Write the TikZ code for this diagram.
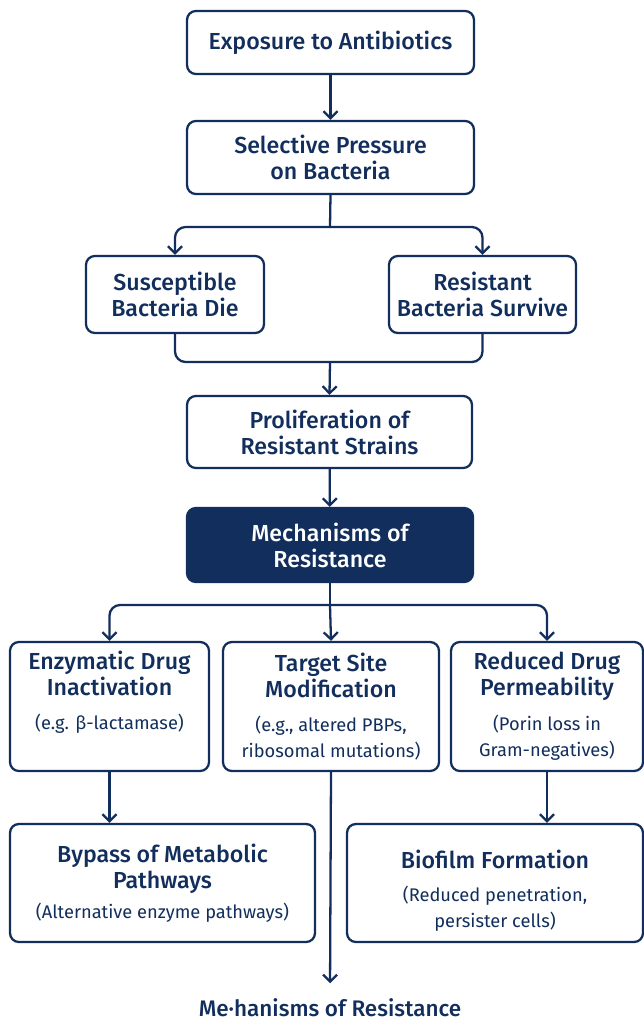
\documentclass[tikz,border=0pt]{standalone}
\usepackage{fontspec}
\setmainfont{Fira Sans}[BoldFont={* Medium}]
\usetikzlibrary{positioning,arrows.meta}
\definecolor{navy}{HTML}{122E5C}
\newcommand{\subt}[1]{{\fontsize{10.4}{12.4}\selectfont\mdseries #1}}

\begin{document}
\begin{tikzpicture}[
    x=0.02cm, y=-0.02cm,
    line join=round,
    line cap=round,
    >={Straight Barb[length=4pt,width=8pt]},
    every node/.style={inner sep=3pt, text=navy},
    stepbox/.style={draw=navy, rounded corners=5pt, fill=white, line width=1.3pt,
        align=center, font=\fontsize{13.2}{14.8}\selectfont\bfseries},
    keybox/.style={stepbox, fill=navy, text=white},
    flow/.style={->, draw=navy, line width=1.3pt},
    link/.style={draw=navy, line width=1.3pt, rounded corners=6pt}
]
\useasboundingbox (0,0) rectangle (644,1025);

% Selection chain
\node[stepbox, minimum width=5.74cm, minimum height=1.26cm] (expo) at (330.5,42.5) {Exposure to Antibiotics};
\node[stepbox, minimum width=5.74cm, minimum height=1.46cm] (press) at (330.5,157.5) {Selective Pressure\\on Bacteria};
\node[stepbox, minimum width=3.56cm, minimum height=1.54cm] (susc) at (175,294.5) {Susceptible\\Bacteria Die};
\node[stepbox, minimum width=3.74cm, minimum height=1.54cm] (resi) at (482.5,294.5) {Resistant\\Bacteria Survive};
\node[stepbox, minimum width=5.70cm, minimum height=1.44cm] (prolif) at (329.5,432) {Proliferation of\\Resistant Strains};
\node[keybox, minimum width=5.72cm, minimum height=1.48cm] (mech) at (330,545) {Mechanisms of\\Resistance};

% Mechanisms
\node[stepbox, minimum width=3.98cm, minimum height=2.58cm] (enzy) at (109.5,706.5)
    {Enzymatic Drug\\Inactivation\\[5pt]\subt{(e.g. β-lactamase)}\\\subt{\strut}};
\node[stepbox, minimum width=4.32cm, minimum height=2.58cm] (target) at (331,706.5)
    {Target Site\\Modification\\[5pt]\subt{(e.g., altered PBPs,}\\\subt{ribosomal mutations)}};
\node[stepbox, minimum width=3.84cm, minimum height=2.58cm] (reduc) at (547,706.5)
    {Reduced Drug\\Permeability\\[5pt]\subt{(Porin loss in}\\\subt{Gram-negatives)}};
\node[stepbox, minimum width=6.10cm, minimum height=2.36cm] (bypass) at (162.5,883)
    {Bypass of Metabolic\\Pathways\\[2pt]\subt{(Alternative enzyme pathways)}};
\node[stepbox, minimum width=5.92cm, minimum height=2.36cm] (biofilm) at (495,883)
    {\rule{0pt}{19pt}Biofilm Formation\\[4pt]\subt{(Reduced penetration,}\\\subt{persister cells)}};

\node[font=\fontsize{12.8}{15}\selectfont\bfseries] (footer) at (330,1008) {Me·hanisms of Resistance};

% Connectors
\coordinate (split) at (330,227);
\coordinate (merge) at (330,362);
\coordinate (fan) at (330,605);
\draw[flow] (expo) -- (press);
\draw[link] (press.south) -- (split);
\draw[flow, rounded corners=6pt] (split) -| (susc.north);
\draw[flow, rounded corners=6pt] (split) -| (resi.north);
\draw[link] (susc.south) |- (merge) -| (resi.south);
\draw[flow] (merge) -- (prolif.north);
\draw[flow] (prolif) -- (mech);
\draw[link] (mech.south) -- (fan);
\draw[flow, rounded corners=6pt] (fan) -| (enzy.north);
\draw[flow] (fan) -- (target.north);
\draw[flow, rounded corners=6pt] (fan) -| (reduc.north);
\draw[flow] (enzy.south) -- (enzy.south |- bypass.north);
\draw[flow] (reduc.south) -- (reduc.south |- biofilm.north);
\draw[flow, shorten >=0.2cm] (target.south) -- (footer.north);

\end{tikzpicture}
\end{document}
